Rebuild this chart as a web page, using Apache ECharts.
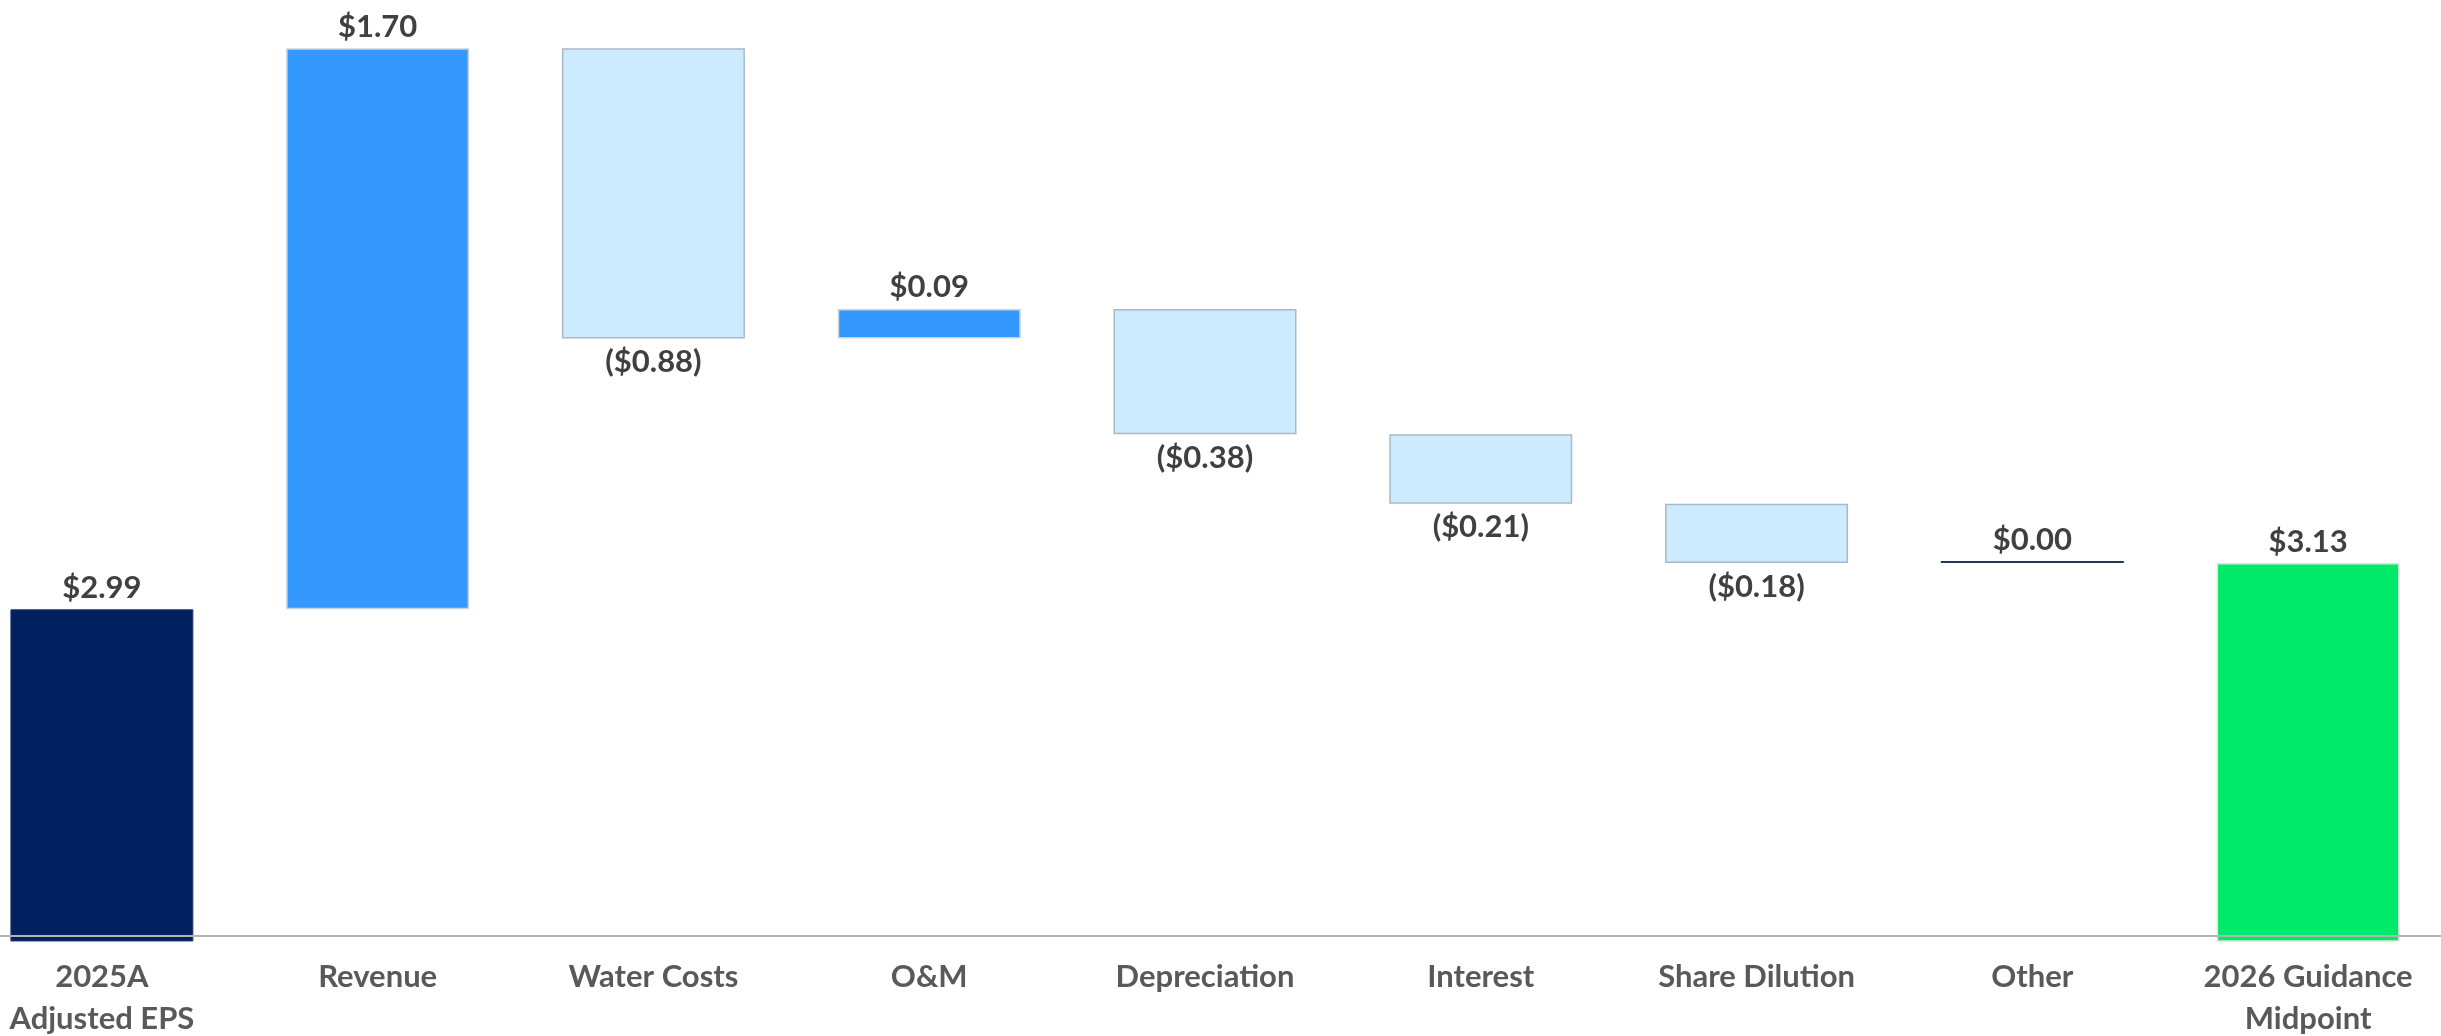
<!DOCTYPE html>
<html>
<head>
<meta charset="utf-8">
<script src="https://cdn.jsdelivr.net/npm/echarts@6/dist/echarts.min.js"></script>
<style>
html,body{margin:0;padding:0;background:#fff;}
#chart{width:2441px;height:1036px;}
</style>
</head>
<body>
<div id="chart"></div>
<script>
const categories = ['2025A\nAdjusted EPS', 'Revenue', 'Water Costs', 'O&M', 'Depreciation', 'Interest', 'Share Dilution', 'Other', '2026 Guidance\nMidpoint'];
const startValue = 2.99;
const changes = [1.70, -0.88, 0.09, -0.38, -0.21, -0.18, 0.00];
const endValue = 3.13;

const FONT = 'Lato, "Open Sans", sans-serif';
const navy = '#002060';
const upColor = '#3399FF';
const downColor = '#CCEBFF';
const endColor = '#00EA6A';

// build waterfall helper (transparent base) + visible bar data
const helper = [0];
const visible = [{ value: startValue, itemStyle: { color: navy, borderColor: '#2a3f6e', borderWidth: 1 }, label: { position: 'top' }, raw: startValue }];
let running = startValue;
changes.forEach(function (c, i) {
  const next = running + c;
  helper.push(Math.min(running, next));
  let style;
  if (i === changes.length - 1 && c === 0) {
    style = { color: '#1F3864', borderWidth: 0 };
  } else if (c >= 0) {
    style = { color: upColor, borderColor: '#c8d4e0', borderWidth: 1.5 };
  } else {
    style = { color: downColor, borderColor: '#aab8c8', borderWidth: 1.5 };
  }
  visible.push({ value: Math.abs(c), itemStyle: style, label: { position: c < 0 ? 'bottom' : 'top', distance: c < 0 ? 8 : 6 }, raw: c });
  running = next;
});
helper.push(0);
visible.push({ value: endValue, itemStyle: { color: endColor, borderColor: '#d8e8dc', borderWidth: 1.5 }, label: { position: 'top' }, raw: endValue });

function fmt(v) {
  return v < 0 ? '($' + Math.abs(v).toFixed(2) + ')' : '$' + v.toFixed(2);
}

const chart = echarts.init(document.getElementById('chart'), null, { renderer: 'canvas' });
chart.setOption({
  animation: false,
  backgroundColor: '#ffffff',
  grid: { left: -36, right: -5, top: 30, bottom: 95, containLabel: false, outerBoundsMode: 'none' },
  xAxis: {
    type: 'category',
    data: categories,
    offset: -5,
    z: 5,
    axisLine: { onZero: false, lineStyle: { color: '#b3b3b3', width: 2 } },
    axisTick: { show: false },
    axisLabel: {
      interval: 0,
      margin: 20,
      color: '#595959',
      fontSize: 31,
      lineHeight: 42,
      fontWeight: 'bold',
      fontFamily: FONT
    }
  },
  yAxis: {
    type: 'value',
    min: 1.985,
    max: 4.745,
    show: false,
    splitLine: { show: false }
  },
  series: [
    {
      type: 'bar',
      stack: 'wf',
      data: helper,
      barWidth: 183,
      itemStyle: { color: 'rgba(0,0,0,0)' },
      silent: true
    },
    {
      type: 'bar',
      stack: 'wf',
      data: visible,
      barWidth: 183,
      barMinHeight: 2,
      label: {
        show: true,
        position: 'top',
        distance: 6,
        color: '#404040',
        fontSize: 31,
        fontWeight: 'bold',
        fontFamily: FONT,
        formatter: function (p) { return fmt(p.data.raw); }
      }
    }
  ]
});
</script>
</body>
</html>
